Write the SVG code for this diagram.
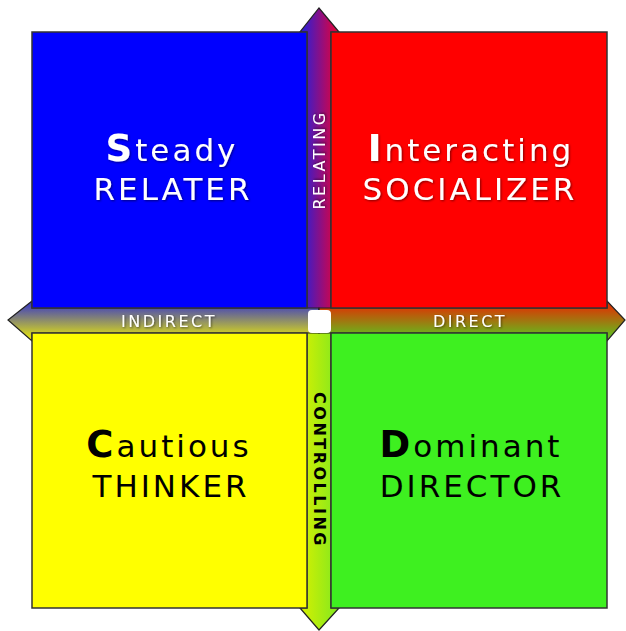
<svg xmlns="http://www.w3.org/2000/svg" width="626" height="631" viewBox="0 0 626 631">
<defs>
<linearGradient id="gUp" x1="0" y1="0" x2="1" y2="0"><stop offset="0" stop-color="#2020e0"/><stop offset="1" stop-color="#ee0030"/></linearGradient>
<linearGradient id="gDown" x1="0" y1="0" x2="1" y2="0"><stop offset="0" stop-color="#d8f000"/><stop offset="1" stop-color="#80e820"/></linearGradient>
<linearGradient id="gLeft" x1="0" y1="0" x2="0" y2="1"><stop offset="0" stop-color="#3030d0"/><stop offset="1" stop-color="#f0f000"/></linearGradient>
<linearGradient id="gRight" x1="0" y1="0" x2="0" y2="1"><stop offset="0" stop-color="#f02000"/><stop offset="1" stop-color="#50d020"/></linearGradient>
<filter id="sh" x="-5%" y="-5%" width="110%" height="110%"><feDropShadow dx="1" dy="1" stdDeviation="1" flood-color="#000" flood-opacity="0.5"/></filter>
</defs>
<style>
.q{stroke:#333;stroke-width:1.5}
.big{font-family:"DejaVu Sans",Verdana,sans-serif;font-size:31px;letter-spacing:3px;text-anchor:middle}
.w{fill:#fff;filter:url(#sh)}
.k{fill:#000}
.cap{font-weight:bold;font-size:37px}
.lab{font-family:"DejaVu Sans",Verdana,sans-serif;font-size:16px;letter-spacing:2.5px;text-anchor:middle}
.arr{stroke:#222;stroke-width:1.2}
</style>
<g id="connectors">
<polygon class="arr" fill="url(#gUp)" points="307,320 307,32 300,32 319,8 339,32 331,32 331,320"/>
<polygon class="arr" fill="url(#gDown)" points="307,320 307,608 300,608 319,630 339,608 331,608 331,320"/>
<polygon class="arr" fill="url(#gLeft)" points="319,308 32,308 32,301 8,320 32,341 32,333 319,333"/>
<polygon class="arr" fill="url(#gRight)" points="319,308 607,308 607,301 625,320 607,341 607,333 319,333"/>
<rect x="308" y="310" width="23" height="23" rx="4" fill="#fff"/>
<text class="lab w" x="169" y="327">INDIRECT</text>
<text class="lab w" x="470" y="327">DIRECT</text>
<text class="lab w" transform="translate(325,160) rotate(-90)">RELATING</text>
<text class="lab k" transform="translate(314,470) rotate(90)" font-weight="bold" letter-spacing="1.5">CONTROLLING</text>
</g>
<g id="steady">
<rect class="q" x="32" y="32" width="275" height="276" fill="#0000ff"/>
<text class="big w" x="172" y="161"><tspan class="cap">S</tspan>teady</text>
<text class="big w" x="173" y="200">RELATER</text>
</g>
<g id="interacting">
<rect class="q" x="331" y="32" width="276" height="276" fill="#ff0000"/>
<text class="big w" x="471" y="161"><tspan class="cap">I</tspan>nteracting</text>
<text class="big w" x="470" y="200">SOCIALIZER</text>
</g>
<g id="cautious">
<rect class="q" x="32" y="333" width="275" height="275" fill="#ffff00"/>
<text class="big k" x="169" y="457"><tspan class="cap">C</tspan>autious</text>
<text class="big k" x="171" y="497">THINKER</text>
</g>
<g id="dominant">
<rect class="q" x="331" y="333" width="276" height="275" fill="#3ef020"/>
<text class="big k" x="471" y="457"><tspan class="cap">D</tspan>ominant</text>
<text class="big k" x="472" y="497">DIRECTOR</text>
</g>
</svg>
